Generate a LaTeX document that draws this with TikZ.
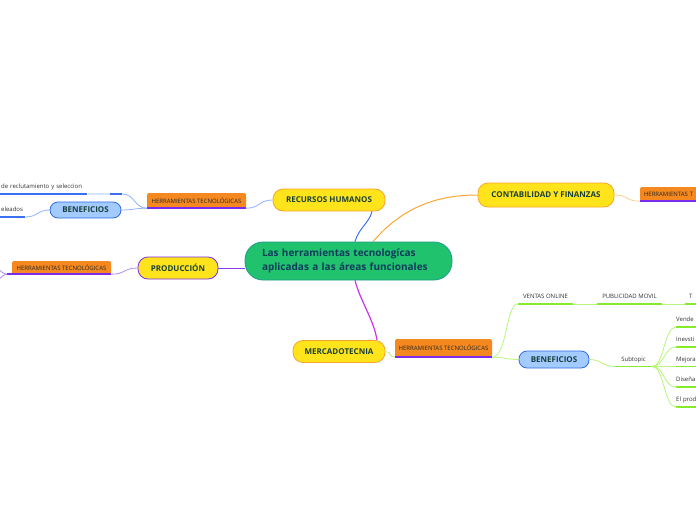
\documentclass[tikz,border=0pt]{standalone}
\usepackage{fontspec}
\setmainfont{Open Sans}
\definecolor{yel}{HTML}{FFE41C}
\definecolor{ybord}{HTML}{F7A42A}
\definecolor{htor}{HTML}{F5891F}
\definecolor{ulp}{HTML}{7A2BF0}
\definecolor{prbord}{HTML}{7F2CE6}
\definecolor{cgreen}{HTML}{20C26E}
\definecolor{cbord}{HTML}{1B9A8B}
\definecolor{tdark}{HTML}{17403A}
\definecolor{cdark}{HTML}{113A5C}
\definecolor{bfill}{HTML}{A3CBFF}
\definecolor{bbord}{HTML}{2D6BE0}
\definecolor{lblue}{HTML}{3D6FF5}
\definecolor{llblue}{HTML}{8FB4FF}
\definecolor{lorange}{HTML}{FFA632}
\definecolor{llorange}{HTML}{FFD08A}
\definecolor{magen}{HTML}{CC33EE}
\definecolor{lpurple}{HTML}{8A3CF0}
\definecolor{llpurple}{HTML}{B38CFF}
\definecolor{lgreen}{HTML}{B9F57A}
\definecolor{ulgreen}{HTML}{86EB2B}
\definecolor{leaftext}{HTML}{333333}
\begin{document}
\begin{tikzpicture}[x=1pt,y=-1pt,
  mainbox/.style={draw=ybord, fill=yel, rounded corners=10pt, line width=0.8pt,
    font=\fontsize{8}{9}\selectfont\bfseries, text=tdark, inner sep=0pt},
  htbox/.style={fill=htor, rounded corners=1.5pt, inner sep=0pt,
    font=\fontsize{6}{7}\selectfont, text=black!85},
  benbox/.style={draw=bbord, fill=bfill, rounded corners=8pt, line width=0.8pt,
    font=\fontsize{8}{9}\selectfont\bfseries, text=tdark, inner sep=0pt},
  leaf/.style={font=\fontsize{6}{7}\selectfont, text=leaftext, inner xsep=0pt,
    inner ysep=3.5pt, text depth=1.5pt},
  ulpur/.style={draw=ulp, line width=1.5pt},
  ulblue/.style={draw=lblue, line width=1.5pt},
  ulgr/.style={draw=ulgreen, line width=1.5pt},
  cgr/.style={draw=lgreen, line width=0.8pt},
]
\useasboundingbox (0,0) rectangle (696,520);
\fill[white] (0,0) rectangle (696,520);
\clip (0,0) rectangle (696,520);

% central
\node[draw=cbord, fill=cgreen, rounded corners=18pt, line width=0.8pt,
  minimum width=207pt, minimum height=38pt, text width=173pt, inner xsep=17pt, align=left,
  font=\fontsize{10}{14}\selectfont\bfseries, text=cdark] (c) at (348.5,261)
  {Las herramientas tecnologícas\\aplicadas a las áreas funcionales};

% main branches
\node[mainbox, minimum width=112pt, minimum height=22pt] (rh) at (329,200) {RECURSOS HUMANOS};
\node[mainbox, minimum width=136pt, minimum height=24pt] (cf) at (546,195) {CONTABILIDAD Y FINANZAS};
\node[mainbox, draw=prbord, minimum width=80pt, minimum height=22pt] (pr) at (178,268) {PRODUCCIÓN};
\node[mainbox, minimum width=92pt, minimum height=22pt] (mk) at (339,351.5) {MERCADOTECNIA};

% herramientas boxes
\node[htbox, minimum width=99pt, minimum height=15pt] (htrh) at (196.5,200.5) {HERRAMIENTAS TECNOLÓGICAS};
\node[htbox, minimum width=99pt, minimum height=13pt] (htpr) at (61.5,267.5) {HERRAMIENTAS TECNOLÓGICAS};
\node[htbox, minimum height=14pt, text width=91pt, inner xsep=4pt, align=left] (htcf) at (689.5,194) {HERRAMIENTAS T};
\node[htbox, minimum width=97pt, minimum height=18pt] (htmk) at (443.5,348) {HERRAMIENTAS TECNOLÓGICAS};
\draw[ulpur] (htrh.south west) -- (htrh.south east);
\draw[ulpur] ([xshift=-5pt]htpr.south west) -- (htpr.south east);
\draw[ulpur] (htcf.south west) -- (htcf.south east);
\draw[ulpur] (htmk.south west) -- (htmk.south east);

% beneficios
\node[benbox, minimum width=71pt, minimum height=16pt] (benrh) at (85.5,210) {BENEFICIOS};
\node[benbox, minimum width=70pt, minimum height=17pt] (benmk) at (554,359.5) {BENEFICIOS};

% leaves RH
\node[leaf, anchor=south west, text width=87pt, align=left] (rec) at (1,194) {de reclutamiento y seleccion};
\node[leaf, anchor=south west, text width=24pt, align=left] (ele) at (1,217) {eleados};
\draw[ulblue] ([xshift=-1pt]rec.south west) -- ([xshift=-1pt]rec.south east);
\draw[ulblue] ([xshift=-1pt]ele.south west) -- (ele.south east);

% leaves mercadotecnia
\node[leaf, anchor=south, minimum width=55pt] (vo) at (545.5,304) {VENTAS ONLINE};
\node[leaf, anchor=south, minimum width=65pt] (pm) at (629.5,304) {PUBLICIDAD MOVIL};
\node[leaf, anchor=south west, text width=6pt, align=left] (t1) at (689,304) {T};
\draw[ulgr] (vo.south west) -- (vo.south east);
\draw[ulgr] (pm.south west) -- (pm.south east);
\draw[ulgr] ([xshift=-4pt]t1.south west) -- ([xshift=8pt]t1.south east);

\node[leaf, anchor=south, minimum width=37pt] (sub) at (633.5,366.5) {Subtopic};
\draw[ulgr] (sub.south west) -- (sub.south east);
\node[leaf, anchor=south west, text width=22pt, align=left] (i1) at (676,327) {Vende};
\node[leaf, anchor=south west, text width=22pt, align=left] (i2) at (676,347) {Inevsti};
\node[leaf, anchor=south west, text width=22pt, align=left] (i3) at (676,366.5) {Mejora};
\node[leaf, anchor=south west, text width=22pt, align=left] (i4) at (676,387) {Diseña};
\node[leaf, anchor=south west, text width=22pt, align=left] (i5) at (676,407) {El prod};
\foreach \i in {i1,i2,i3,i4,i5} {\draw[ulgr] (\i.south west) -- ([xshift=4pt]\i.south east);}

% connectors from central
\draw[lblue, line width=1pt] ([xshift=6.5pt]c.north) .. controls +(4,-14) and +(-3,12) .. ([xshift=43pt]rh.south);
\draw[lorange, line width=1pt] ([xshift=24.5pt]c.north) .. controls +(30,-35) and +(-40,0) .. (cf.west);
\draw[lpurple, line width=1pt] (c.west |- pr.east) -- (pr.east);
\draw[magen, line width=1.2pt] ([xshift=6.5pt]c.south) .. controls +(5,20) and +(-3,-20) .. ([xshift=38pt]mk.north);

% RH sub-connectors
\draw[llblue, line width=0.8pt] (rh.west) .. controls +(-14,0) and +(14,0) .. (htrh.south east);
\draw[llblue, line width=0.8pt] (htrh.south west) .. controls +(-12,0) and +(12,0) .. ([xshift=34pt]rec.south east) -- (rec.south east);
\draw[ulblue] ([xshift=22pt]rec.south east) -- ([xshift=34pt]rec.south east);
\draw[llblue, line width=0.8pt] (htrh.south west) .. controls +(-12,0) and +(12,0) .. (benrh.east);
\draw[llblue, line width=0.8pt] (benrh.west) .. controls +(-12,0) and +(12,0) .. (ele.south east);

% Produccion sub-connectors
\coordinate (p1) at (-12,262);
\coordinate (p2) at (-12,288);
\draw[llpurple, line width=0.8pt] (pr.west) .. controls +(-14,0) and +(14,0) .. (htpr.south east);
\draw[llpurple, line width=0.8pt] ([xshift=-5pt]htpr.south west) .. controls +(-6,0) and +(6,0) .. (p1);
\draw[llpurple, line width=0.8pt] ([xshift=-5pt]htpr.south west) .. controls +(-6,0) and +(6,0) .. (p2);

% Contabilidad sub-connector
\draw[llorange, line width=0.8pt] (cf.east) .. controls +(14,0) and +(-14,0) .. (htcf.south west);

% Mercadotecnia sub-connectors
\draw[cgr] (mk.east) .. controls +(6,0) and +(-6,0) .. (htmk.south west);
\draw[cgr] (htmk.south east) .. controls +(15,0) and +(-12,0) .. (vo.south west);
\draw[cgr] (htmk.south east) .. controls +(12,0) and +(-12,0) .. (benmk.west);
\draw[cgr] (vo.south east) -- (pm.south west);
\draw[cgr] (pm.south east) -- ([xshift=-4pt]t1.south west);
\draw[cgr] (benmk.east) .. controls +(12,0) and +(-12,0) .. (sub.south west);
\foreach \i in {i1,i2,i3,i4,i5} {\draw[cgr] (sub.south east) .. controls +(12,0) and +(-12,0) .. (\i.south west);}
\end{tikzpicture}
\end{document}
